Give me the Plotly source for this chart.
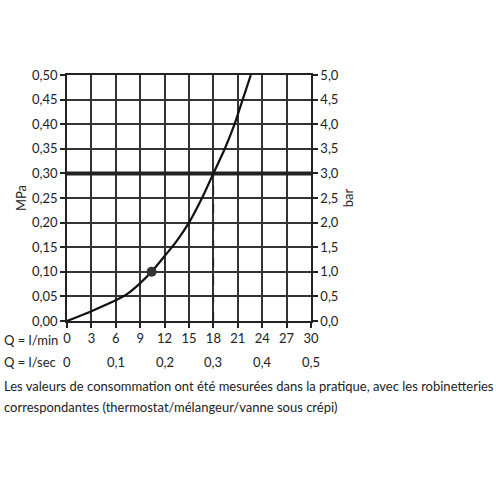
import plotly.graph_objects as go

# Flow (l/min) vs pressure (MPa) curve
flow_lmin = [0, 3, 6, 7.5, 9, 10.4, 12, 13.5, 15, 16.6, 18, 19.4, 20.6, 21.6, 22.6]
pressure_mpa = [0, 0.020, 0.042, 0.056, 0.077, 0.10, 0.132, 0.163, 0.20, 0.25, 0.30, 0.35, 0.40, 0.45, 0.50]

marker_flow = [10.4]
marker_pressure = [0.10]

ref_pressure = 0.30
ref_flow = 18

x_ticks_lmin = [0, 3, 6, 9, 12, 15, 18, 21, 24, 27, 30]
x_ticks_lsec_pos = [0, 6, 12, 18, 24, 30]
x_ticks_lsec_text = ["0", "0,1", "0,2", "0,3", "0,4", "0,5"]

y_ticks_mpa = [0, 0.05, 0.10, 0.15, 0.20, 0.25, 0.30, 0.35, 0.40, 0.45, 0.50]
y_ticks_mpa_text = ["0,00", "0,05", "0,10", "0,15", "0,20", "0,25", "0,30", "0,35", "0,40", "0,45", "0,50"]
y_ticks_bar = [0, 0.5, 1.0, 1.5, 2.0, 2.5, 3.0, 3.5, 4.0, 4.5, 5.0]
y_ticks_bar_text = ["0,0", "0,5", "1,0", "1,5", "2,0", "2,5", "3,0", "3,5", "4,0", "4,5", "5,0"]

caption_lines = [
    "Les valeurs de consommation ont été mesurées dans la pratique, avec les robinetteries",
    "correspondantes (thermostat/mélangeur/vanne sous crépi)",
]

FONT = "Lato"
TXT = "#222222"

fig = go.Figure()

# reference horizontal line at 0.30 MPa
fig.add_trace(go.Scatter(x=[0, 30], y=[ref_pressure, ref_pressure], mode="lines",
                         line=dict(color="#222222", width=4), hoverinfo="skip", cliponaxis=False))
# dashed vertical drop
fig.add_trace(go.Scatter(x=[ref_flow, ref_flow], y=[0, ref_pressure], mode="lines",
                         line=dict(color="#222222", width=1.5, dash="dash"), hoverinfo="skip"))
# curve
fig.add_trace(go.Scatter(x=flow_lmin, y=pressure_mpa, mode="lines",
                         line=dict(color="#111111", width=2.2, shape="spline", smoothing=0.7),
                         cliponaxis=True))
# marker point
fig.add_trace(go.Scatter(x=marker_flow, y=marker_pressure, mode="markers",
                         marker=dict(color="#333333", size=10)))
# invisible trace on bar axis
fig.add_trace(go.Scatter(x=[0, 30], y=[0, 5], yaxis="y2", mode="markers",
                         marker=dict(opacity=0), hoverinfo="skip"))

fig.update_layout(
    width=496, height=496,
    margin=dict(l=67, r=185, t=75, b=175),
    paper_bgcolor="white", plot_bgcolor="white",
    showlegend=False,
    font=dict(family=FONT, size=13, color=TXT),
    xaxis=dict(range=[0, 30], tickvals=x_ticks_lmin, ticktext=[str(v) for v in x_ticks_lmin],
               showgrid=True, gridcolor="#333333", gridwidth=1.5,
               showline=True, linecolor="#222222", linewidth=1.5, mirror=True,
               ticks="outside", ticklen=5, tickcolor="#222222", tickwidth=1.5,
               tickfont=dict(size=13, color=TXT), zeroline=False, fixedrange=True),
    yaxis=dict(range=[0, 0.5], tickvals=y_ticks_mpa, ticktext=y_ticks_mpa_text,
               showgrid=True, gridcolor="#333333", gridwidth=1.5,
               showline=True, linecolor="#222222", linewidth=1.5, mirror=True,
               ticks="outside", ticklen=5, tickcolor="#222222", tickwidth=1.5,
               tickfont=dict(size=13, color=TXT), zeroline=False,
               title=dict(text="MPa", font=dict(size=13, color=TXT), standoff=3)),
    yaxis2=dict(range=[0, 5], overlaying="y", side="right", tickvals=y_ticks_bar, ticktext=y_ticks_bar_text,
                showgrid=False, showline=True, linecolor="#222222", linewidth=1.5,
                ticks="outside", ticklen=5, tickcolor="#222222", tickwidth=1.5,
                tickfont=dict(size=13, color=TXT), zeroline=False,
                title=dict(text="bar", font=dict(size=13, color=TXT), standoff=6)),
)

annotations = [
    dict(text="Q = l/min", xref="paper", yref="paper", x=-0.265, y=0, yshift=-19,
         xanchor="left", yanchor="middle", showarrow=False, font=dict(size=13, color=TXT)),
    dict(text="Q = l/sec", xref="paper", yref="paper", x=-0.265, y=0, yshift=-41,
         xanchor="left", yanchor="middle", showarrow=False, font=dict(size=13, color=TXT)),
]
for i, line in enumerate(caption_lines):
    annotations.append(dict(text=line, xref="paper", yref="paper", x=-0.265, y=0, yshift=-65 - 21 * i,
                            xanchor="left", yanchor="middle", align="left", showarrow=False,
                            font=dict(size=13, color=TXT)))
for xv, t in zip(x_ticks_lsec_pos, x_ticks_lsec_text):
    annotations.append(dict(text=t, xref="x", yref="paper", x=xv, y=0, yshift=-41,
                            xanchor="center", yanchor="middle", showarrow=False,
                            font=dict(size=13, color=TXT)))
fig.update_layout(annotations=annotations)

fig.write_html("out.html", config={"displayModeBar": False},
               post_script="document.body.style.margin='0';document.body.style.padding='0';")
